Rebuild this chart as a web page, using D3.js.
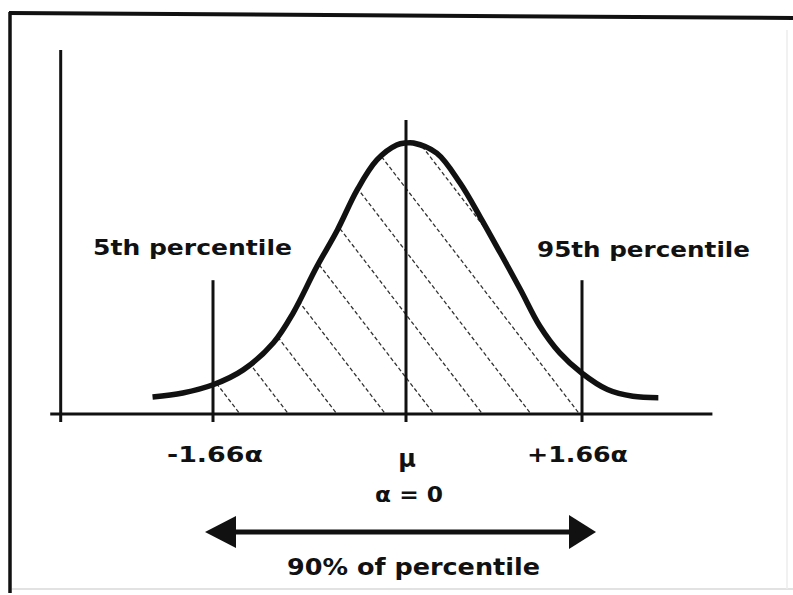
<!DOCTYPE html>
<html>
<head>
<meta charset="utf-8">
<script src="https://cdn.jsdelivr.net/npm/d3@7/dist/d3.min.js"></script>
<style>
  html, body { margin: 0; padding: 0; background: #fff; }
  svg { display: block; }
  text { font-family: "DejaVu Sans", "Liberation Sans", sans-serif; font-weight: bold; fill: #111; }
</style>
</head>
<body>
<svg id="chart" width="793" height="595"></svg>
<script>
// ---- data ----
// curve sampled in standard-deviation units (z) and relative density
const curveZ = [-2.18, -1.92, -1.66, -1.40, -1.14, -0.97, -0.77, -0.59, -0.42, -0.25, -0.08, 0.00,
                0.07, 0.29, 0.51, 0.70, 0.89, 1.08, 1.26, 1.45, 1.66, 1.90, 2.14, 2.38];
const curveDensity = [0.025, 0.031, 0.043, 0.065, 0.105, 0.149, 0.216, 0.271, 0.330, 0.374, 0.396, 0.399,
                      0.399, 0.384, 0.340, 0.290, 0.237, 0.183, 0.130, 0.090, 0.060, 0.036, 0.026, 0.024];
const tickValues = [-1.66, 0, 1.66];
const tickLabels = ["-1.66α", "μ", "+1.66α"];
const meanLabel = "α = 0";
const percentileZ = [-1.66, 1.66];
const percentileLabels = ["5th percentile", "95th percentile"];
const percentileMarkerHeight = 0.197;
const meanMarkerHeight = 0.433;
const rangeLabel = "90% of percentile";

// ---- scales ----
const svg = d3.select("#chart");
const x = d3.scaleLinear().domain([-1.66, 0, 1.66]).range([213, 406, 582]);
const y = d3.scaleLinear().domain([0, 0.399]).range([414, 143]);
const y0 = y(0);
const ink = "#111";

// frame (scanned box)
svg.append("line").attr("x1", 9).attr("y1", 13).attr("x2", 793).attr("y2", 18)
  .attr("stroke", ink).attr("stroke-width", 4);
svg.append("line").attr("x1", 10).attr("y1", 12).attr("x2", 10).attr("y2", 593)
  .attr("stroke", ink).attr("stroke-width", 3.5);
svg.append("line").attr("x1", 12).attr("y1", 589).attr("x2", 793).attr("y2", 589)
  .attr("stroke", "#d8d8d8").attr("stroke-width", 1.5);
svg.append("line").attr("x1", 787).attr("y1", 30).attr("x2", 787).attr("y2", 589)
  .attr("stroke", "#ececec").attr("stroke-width", 1.5);

// hatch clip: area under the curve between the two percentiles
const pts = curveZ.map((z, i) => [z, curveDensity[i]]);
const inner = pts.filter(p => p[0] >= -1.66 && p[0] <= 1.66);
const area = d3.area().x(d => x(d[0])).y0(y0).y1(d => y(d[1])).curve(d3.curveCatmullRom.alpha(0.5));
svg.append("clipPath").attr("id", "hatchClip").append("path").attr("d", area(inner));

const slope = 1.3, spacing = 48.5;
const intercepts = d3.range(240, 640, spacing);
svg.append("g").attr("clip-path", "url(#hatchClip)")
  .selectAll("line").data(intercepts).join("line")
  .attr("x1", d => d - (y0 - 100) / slope).attr("y1", 100)
  .attr("x2", d => d).attr("y2", y0)
  .attr("stroke", "#333").attr("stroke-width", 1.3).attr("stroke-dasharray", "4 2.5");

// axes
svg.append("line").attr("x1", x(-3.06)).attr("x2", x(2.89)).attr("y1", y0).attr("y2", y0)
  .attr("stroke", ink).attr("stroke-width", 3);
svg.append("line").attr("x1", x(-2.97)).attr("x2", x(-2.97)).attr("y1", y(0.536)).attr("y2", y0 + 8)
  .attr("stroke", ink).attr("stroke-width", 3);

// percentile markers and mean line
svg.selectAll(".pmark").data(percentileZ).join("line").attr("class", "pmark")
  .attr("x1", d => x(d)).attr("x2", d => x(d))
  .attr("y1", y(percentileMarkerHeight)).attr("y2", y0 + 8)
  .attr("stroke", ink).attr("stroke-width", 3);
svg.append("line").attr("x1", x(0)).attr("x2", x(0))
  .attr("y1", y(meanMarkerHeight)).attr("y2", y0 + 8)
  .attr("stroke", ink).attr("stroke-width", 3);

// curve
const line = d3.line().x(d => x(d[0])).y(d => y(d[1])).curve(d3.curveCatmullRom.alpha(0.5));
svg.append("path").attr("d", line(pts)).attr("fill", "none")
  .attr("stroke", ink).attr("stroke-width", 5.5).attr("stroke-linecap", "butt");

// tick labels
const tickText = [
  {x: 167, y: 462, w: 96, anchor: "start", size: 21},
  {x: 407, y: 467, w: null, anchor: "middle", size: 24},
  {x: 527, y: 462, w: 101, anchor: "start", size: 21}
];
tickLabels.forEach((t, i) => {
  const s = tickText[i];
  const el = svg.append("text").attr("x", s.x).attr("y", s.y).attr("font-size", s.size)
    .attr("text-anchor", s.anchor).text(t);
  if (s.w) el.attr("textLength", s.w).attr("lengthAdjust", "spacingAndGlyphs");
});
svg.append("text").attr("x", 375).attr("y", 502).attr("font-size", 21)
  .attr("textLength", 68).attr("lengthAdjust", "spacingAndGlyphs").text(meanLabel);

// percentile labels
const pl = [{x: 93, y: 255, w: 199}, {x: 537, y: 257, w: 213}];
percentileLabels.forEach((t, i) => {
  svg.append("text").attr("x", pl[i].x).attr("y", pl[i].y).attr("font-size", 22)
    .attr("textLength", pl[i].w).attr("lengthAdjust", "spacingAndGlyphs").text(t);
});

// range arrow
const ay = 532;
const ax1 = x(-1.66) - 8, ax2 = x(1.66) + 14;
svg.append("line").attr("x1", ax1 + 20).attr("x2", ax2 - 20).attr("y1", ay).attr("y2", ay)
  .attr("stroke", ink).attr("stroke-width", 5);
svg.append("path").attr("d", `M${ax1},${ay} L${ax1 + 31},${ay - 16} L${ax1 + 31},${ay + 16} Z`).attr("fill", ink);
svg.append("path").attr("d", `M${ax2},${ay} L${ax2 - 27},${ay - 17} L${ax2 - 27},${ay + 17} Z`).attr("fill", ink);
svg.append("text").attr("x", 287).attr("y", 575).attr("font-size", 23)
  .attr("textLength", 253).attr("lengthAdjust", "spacingAndGlyphs").text(rangeLabel);
</script>
</body>
</html>
